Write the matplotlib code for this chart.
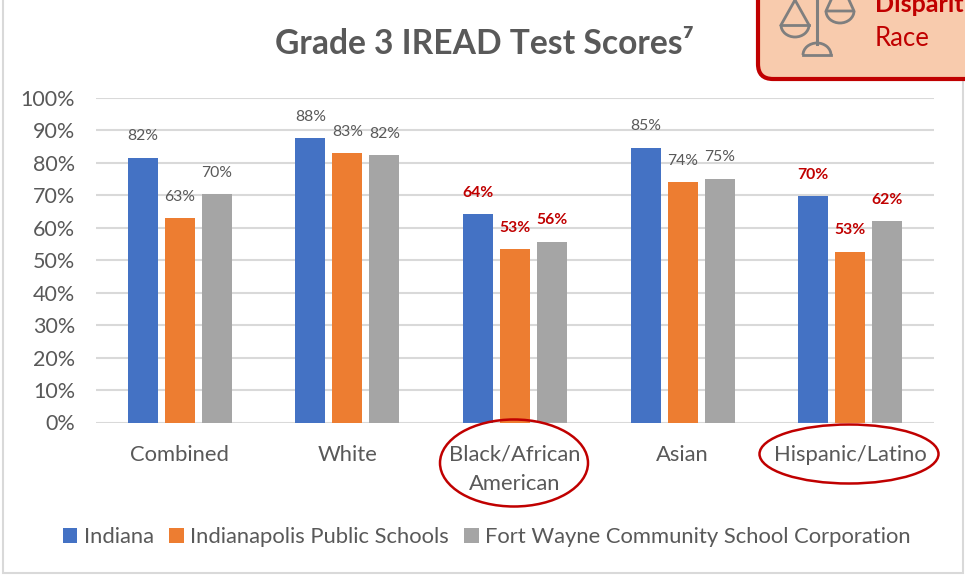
import matplotlib
matplotlib.use("Agg")
import matplotlib.pyplot as plt
from matplotlib.patches import Ellipse, FancyBboxPatch, Rectangle, Arc
import numpy as np

plt.rcParams['font.family'] = ['Lato', 'DejaVu Sans']

categories = ["Combined", "White", "Black/African\nAmerican", "Asian", "Hispanic/Latino"]
series_names = ["Indiana", "Indianapolis Public Schools", "Fort Wayne Community School Corporation"]
indiana = [81.6, 87.6, 64.1, 84.7, 69.7]
ips = [62.9, 82.9, 53.4, 74.0, 52.6]
fort_wayne = [70.3, 82.4, 55.7, 75.1, 62.0]
indiana_labels = ["82%", "88%", "64%", "85%", "70%"]
ips_labels = ["63%", "83%", "53%", "74%", "53%"]
fort_wayne_labels = ["70%", "82%", "56%", "75%", "62%"]
highlighted = [2, 4]
colors = ["#4472C4", "#ED7D31", "#A5A5A5"]
W, H = 965, 575
GREY = "#595959"
RED = "#C00000"

fig = plt.figure(figsize=(W / 100, H / 100), dpi=100, facecolor="white")

# pixel-space layer for the page furniture
bg = fig.add_axes([0, 0, 1, 1], zorder=0)
bg.set_xlim(0, W); bg.set_ylim(H, 0); bg.axis("off")
bg.add_patch(Rectangle((3, -5), 960, 578, fc="white", ec="#D9D9D9", lw=1.5))

ax = fig.add_axes([96 / W, 1 - 422.5 / H, 838 / W, 324.5 / H], zorder=1)
ax.patch.set_alpha(0)
x = np.arange(len(categories))
bw, off = 0.179, 0.2208
for i, (vals, labs, name, col) in enumerate(zip([indiana, ips, fort_wayne],
                                               [indiana_labels, ips_labels, fort_wayne_labels],
                                               series_names, colors)):
    bars = ax.bar(x + (i - 1) * off, vals, bw, color=col, label=name, zorder=3)
    for j, (b, lab) in enumerate(zip(bars, labs)):
        hot = j in highlighted
        ax.annotate(lab, (b.get_x() + b.get_width() / 2, b.get_height()),
                    xytext=(0, 15.5), textcoords="offset points", ha="center", va="center",
                    fontsize=11.3, color=RED if hot else GREY,
                    fontweight="bold" if hot else "normal", zorder=4)

ax.set_xlim(-0.5, 4.5)
ax.set_ylim(0, 100)
ax.set_yticks(range(0, 101, 10))
ax.set_yticklabels([f"{v}%" for v in range(0, 101, 10)], fontsize=15.5)
ax.set_xticks(x)
ax.set_xticklabels(categories, linespacing=1.55, fontsize=15.8)
ax.tick_params(axis="both", length=0, labelcolor=GREY)
ax.tick_params(axis="x", pad=16)
ax.tick_params(axis="y", pad=15)
ax.grid(axis="y", color="#D9D9D9", lw=1.5, zorder=0)
ax.set_axisbelow(True)
for s in ax.spines.values():
    s.set_visible(False)

leg = ax.legend(loc="center", bbox_to_anchor=(487 / W, 1 - 537 / H), bbox_transform=fig.transFigure,
                ncol=3, frameon=False, fontsize=15.8, labelcolor=GREY,
                handlelength=0.65, handleheight=0.65, handletextpad=0.3, columnspacing=0.7,
                borderpad=0)

# overlay layer: title, callout and circles
ov = fig.add_axes([0, 0, 1, 1], zorder=2)
ov.set_xlim(0, W); ov.set_ylim(H, 0); ov.axis("off")
ov.text(484, 44, "Grade 3 IREAD Test Scores\u2077", ha="center", va="center",
        fontsize=24.2, fontweight="bold", color=GREY)
ov.add_patch(Ellipse((514, 463), 148, 87, fc="none", ec=RED, lw=1.8))
ov.add_patch(Ellipse((849, 454), 179, 59, fc="none", ec=RED, lw=1.8))

ov.add_patch(FancyBboxPatch((758, -40), 260, 119, boxstyle="round,pad=0,rounding_size=15",
                            fc="#F8CBAD", ec=RED, lw=3))
ICON = "#7F7F7F"
ov.plot([817, 817], [0, 44], color=ICON, lw=2.2)
ov.plot([795, 781], [0, 25], color=ICON, lw=2)
ov.plot([795, 809], [0, 25], color=ICON, lw=2)
ov.plot([781, 809], [25, 25], color=ICON, lw=2)
ov.add_patch(Arc((795, 25), 28, 24, theta1=0, theta2=180, color=ICON, lw=2))
ov.plot([831, 826, 854, 849], [0, 11, 11, 0], color=ICON, lw=2)
ov.add_patch(Arc((840, 11), 28, 24, theta1=0, theta2=180, color=ICON, lw=2))
ov.add_patch(Arc((817, 55), 28, 24, theta1=180, theta2=360, color=ICON, lw=2))
ov.plot([803, 831], [55, 55], color=ICON, lw=2)
ov.text(875, 4, "Disparit", color=RED, fontsize=18, fontweight="bold", va="center", ha="left")
ov.text(875, 39, "Race", color=RED, fontsize=18.5, va="center", ha="left")

fig.savefig("out.png", dpi=100, facecolor="white")
